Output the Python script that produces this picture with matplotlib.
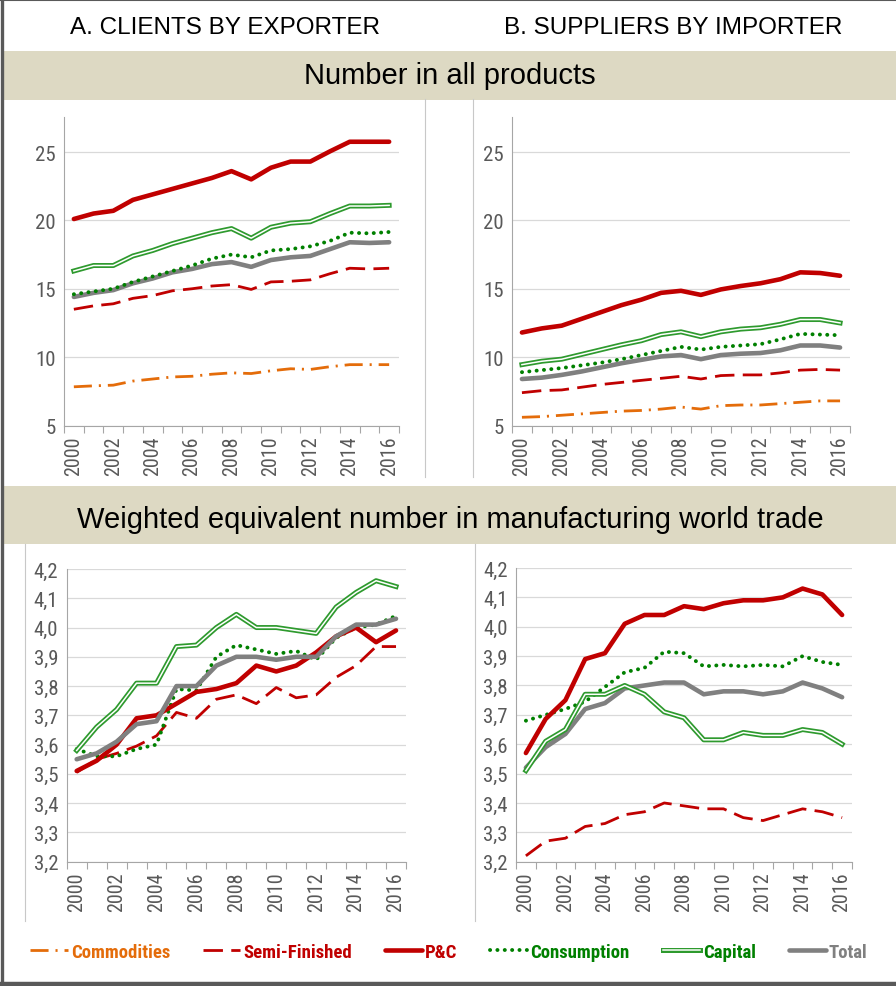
import matplotlib
matplotlib.use("Agg")
import matplotlib.pyplot as plt
import matplotlib.patheffects as pe
from matplotlib import font_manager
from matplotlib.patches import Rectangle
from matplotlib.lines import Line2D
from matplotlib.ticker import FuncFormatter, FixedLocator

# ---- data ----
years = list(range(2000, 2017))
series = ["Commodities", "Semi-Finished", "P&C", "Consumption", "Capital", "Total"]

# A. clients by exporter, number in all products
a_num_commod = [7.83, 7.9, 7.95, 8.25, 8.4, 8.55, 8.6, 8.75, 8.85, 8.8, 9.0, 9.15, 9.1, 9.3, 9.45, 9.45, 9.45]
a_num_semi = [13.5, 13.75, 13.9, 14.3, 14.5, 14.85, 15.0, 15.2, 15.3, 14.95, 15.5, 15.55, 15.65, 16.1, 16.5, 16.45, 16.5]
a_num_pc = [20.1, 20.5, 20.7, 21.5, 21.9, 22.3, 22.7, 23.1, 23.6, 23.0, 23.85, 24.3, 24.3, 25.05, 25.75, 25.75, 25.75]
a_num_cons = [14.6, 14.8, 15.0, 15.5, 15.9, 16.3, 16.7, 17.2, 17.5, 17.3, 17.8, 17.9, 18.1, 18.5, 19.1, 19.05, 19.15]
a_num_cap = [16.3, 16.7, 16.7, 17.4, 17.8, 18.3, 18.7, 19.1, 19.4, 18.7, 19.5, 19.8, 19.9, 20.5, 21.05, 21.05, 21.1]
a_num_total = [14.4, 14.7, 14.9, 15.4, 15.75, 16.2, 16.45, 16.8, 16.95, 16.6, 17.1, 17.3, 17.4, 17.9, 18.4, 18.35, 18.4]

# B. suppliers by importer, number in all products
b_num_commod = [5.6, 5.65, 5.75, 5.85, 5.95, 6.05, 6.1, 6.2, 6.35, 6.2, 6.45, 6.5, 6.5, 6.6, 6.7, 6.8, 6.8]
b_num_semi = [7.4, 7.55, 7.6, 7.8, 8.0, 8.15, 8.3, 8.45, 8.6, 8.4, 8.65, 8.7, 8.7, 8.85, 9.05, 9.1, 9.05]
b_num_pc = [11.8, 12.1, 12.3, 12.8, 13.3, 13.8, 14.2, 14.7, 14.85, 14.55, 14.95, 15.2, 15.4, 15.7, 16.2, 16.15, 15.95]
b_num_cons = [8.9, 9.05, 9.2, 9.4, 9.6, 9.85, 10.15, 10.45, 10.75, 10.55, 10.75, 10.85, 10.95, 11.3, 11.7, 11.65, 11.6]
b_num_cap = [9.45, 9.7, 9.85, 10.2, 10.55, 10.9, 11.2, 11.65, 11.85, 11.5, 11.85, 12.05, 12.15, 12.4, 12.75, 12.75, 12.5]
b_num_total = [8.4, 8.5, 8.7, 8.95, 9.25, 9.55, 9.8, 10.05, 10.15, 9.85, 10.15, 10.25, 10.3, 10.5, 10.85, 10.85, 10.7]

# A. weighted equivalent number in manufacturing world trade
a_w_semi = [3.505, 3.55, 3.57, 3.595, 3.63, 3.71, 3.69, 3.755, 3.77, 3.74, 3.795, 3.76, 3.77, 3.83, 3.87, 3.935, 3.935]
a_w_pc = [3.51, 3.545, 3.60, 3.69, 3.70, 3.74, 3.78, 3.79, 3.81, 3.87, 3.85, 3.87, 3.915, 3.97, 4.00, 3.95, 3.99]
a_w_cons = [3.585, 3.56, 3.56, 3.585, 3.60, 3.79, 3.785, 3.90, 3.94, 3.925, 3.91, 3.92, 3.89, 3.965, 4.00, 4.01, 4.04]
a_w_cap = [3.58, 3.66, 3.72, 3.81, 3.81, 3.935, 3.94, 4.00, 4.045, 4.0, 4.0, 3.99, 3.98, 4.07, 4.12, 4.16, 4.14]
a_w_total = [3.55, 3.57, 3.61, 3.67, 3.68, 3.80, 3.80, 3.87, 3.90, 3.90, 3.89, 3.90, 3.90, 3.97, 4.01, 4.01, 4.03]

# B. weighted equivalent number in manufacturing world trade
b_w_semi = [3.22, 3.27, 3.28, 3.32, 3.33, 3.36, 3.37, 3.40, 3.39, 3.38, 3.38, 3.35, 3.34, 3.36, 3.38, 3.37, 3.35]
b_w_pc = [3.57, 3.686, 3.75, 3.89, 3.91, 4.01, 4.04, 4.04, 4.07, 4.06, 4.08, 4.09, 4.09, 4.10, 4.13, 4.11, 4.04]
b_w_cons = [3.68, 3.70, 3.72, 3.745, 3.795, 3.845, 3.86, 3.915, 3.91, 3.865, 3.87, 3.865, 3.87, 3.865, 3.90, 3.88, 3.87]
b_w_cap = [3.51, 3.61, 3.65, 3.77, 3.77, 3.80, 3.77, 3.71, 3.69, 3.615, 3.615, 3.64, 3.63, 3.63, 3.65, 3.64, 3.60]
b_w_total = [3.52, 3.59, 3.635, 3.72, 3.74, 3.79, 3.80, 3.81, 3.81, 3.77, 3.78, 3.78, 3.77, 3.78, 3.81, 3.79, 3.76]

# ---- styles ----
ORANGE = "#E46C0A"
RED = "#C00000"
GREEN = "#008000"
CAP_GREEN = "#2E9A2E"
GREY = "#808080"
TXT = "#595959"
W, H = 896, 987

plt.rcParams["lines.scale_dashes"] = False
# pick a narrow face if one is installed, else plain Liberation Sans
names = sorted({f.name for f in font_manager.fontManager.ttflist})
prefs = ["Liberation Sans Narrow", "Arial Narrow", "Roboto Condensed", "Open Sans Condensed",
         "Noto Sans Condensed", "Noto Sans SemiCondensed", "Open Sans SemiCondensed"]
others = [n for n in names if "Narrow" in n or "Condensed" in n]
NARROW = next((p for p in prefs if p in names), others[0] if others else "Liberation Sans")
plt.rcParams["font.family"] = [NARROW, "DejaVu Sans"]

styles = {
    "Commodities": dict(color=ORANGE, lw=2.0, dashes=(13, 5, 1.5, 5)),
    "Semi-Finished": dict(color=RED, lw=2.0, dashes=(14, 6)),
    "P&C": dict(color=RED, lw=3.3, solid_capstyle="round"),
    "Consumption": dict(color=GREEN, lw=2.8, dashes=(0.1, 5.2), dash_capstyle="round"),
    "Capital": dict(color="white", lw=1.1,
                    path_effects=[pe.Stroke(linewidth=3.6, foreground=CAP_GREEN), pe.Normal()]),
    "Total": dict(color=GREY, lw=3.3, solid_capstyle="round"),
}


def px(x, y):
    return x / W, 1 - y / H


fig = plt.figure(figsize=(W / 100, H / 100), dpi=100)

# outer frame
fig.add_artist(Line2D([1.5 / W, 1.5 / W], [0, 1], color="#595959", lw=2.4))
fig.add_artist(Line2D([0, 1], [1 - 0.8 / H, 1 - 0.8 / H], color="#595959", lw=1.5))
fig.add_artist(Line2D([0, 1], [2.2 / H, 2.2 / H], color="#595959", lw=3.2))

# header bands
for y0, y1 in [(52, 101), (487, 545)]:
    fig.add_artist(Rectangle(px(3, y1), (W - 3) / W, (y1 - y0) / H,
                             facecolor="#DDD9C3", edgecolor="none"))

# thin box borders
for x, y0, y1 in [(425, 100, 478), (473, 100, 478), (25, 545, 922), (475, 545, 922)]:
    fig.add_artist(Line2D([x / W, x / W], [1 - y0 / H, 1 - y1 / H], color="#C8C8C8", lw=0.8))

fig.text(*px(225, 28), "A. CLIENTS BY EXPORTER", ha="center", va="center",
         fontsize=17.5, family="Liberation Sans", color="black")
fig.text(*px(673, 28), "B. SUPPLIERS BY IMPORTER", ha="center", va="center",
         fontsize=17.5, family="Liberation Sans", color="black")
fig.text(*px(450, 76), "Number in all products", ha="center", va="center",
         fontsize=21, family="Liberation Sans", color="black")
fig.text(*px(450, 520), "Weighted equivalent number in manufacturing world trade",
         ha="center", va="center", fontsize=21, family="Liberation Sans", color="black")


def panel(rect, data, ylim, yticks, comma=False):
    x0, y0 = px(rect[0], rect[3])
    ax = fig.add_axes([x0, y0, (rect[2] - rect[0]) / W, (rect[3] - rect[1]) / H])
    xs = list(range(len(years)))
    for name, vals in data:
        ax.plot(xs, vals, label=name, **styles[name])
    ax.set_xlim(-0.5, len(years) - 0.5)
    ax.set_ylim(*ylim)
    ax.yaxis.set_major_locator(FixedLocator(yticks))
    if comma:
        ax.yaxis.set_major_formatter(FuncFormatter(lambda v, p: f"{v:.1f}".replace(".", ",")))
    ax.set_xticks(xs[::2])
    ax.set_xticklabels([str(y) for y in years[::2]], rotation=90)
    ax.set_xticks([i - 0.5 for i in range(len(years) + 1)], minor=True)
    ax.tick_params(axis="x", which="major", length=0, pad=7, labelsize=14.5, labelcolor=TXT)
    ax.tick_params(axis="x", which="minor", length=5, width=0.8, color="#A6A6A6", direction="out")
    ax.tick_params(axis="y", length=0, pad=6, labelsize=15, labelcolor=TXT)
    ax.grid(axis="y", color="#D9D9D9", lw=0.9)
    ax.set_axisbelow(True)
    for s in ["top", "right"]:
        ax.spines[s].set_visible(False)
    for s in ["left", "bottom"]:
        ax.spines[s].set_color("#A6A6A6")
        ax.spines[s].set_linewidth(0.8)
    return ax


ax1 = panel((64, 118, 399, 426.5),
            [("Commodities", a_num_commod), ("Semi-Finished", a_num_semi), ("Total", a_num_total),
             ("Consumption", a_num_cons), ("Capital", a_num_cap), ("P&C", a_num_pc)],
            (5, 27.56), [5, 10, 15, 20, 25])
panel((512, 118, 850, 426.5),
      [("Commodities", b_num_commod), ("Semi-Finished", b_num_semi), ("Total", b_num_total),
       ("Consumption", b_num_cons), ("Capital", b_num_cap), ("P&C", b_num_pc)],
      (5, 27.56), [5, 10, 15, 20, 25])
panel((66.7, 570, 406, 862.7),
      [("Semi-Finished", a_w_semi), ("Consumption", a_w_cons), ("P&C", a_w_pc),
       ("Total", a_w_total), ("Capital", a_w_cap)],
      (3.2, 4.2), [3.2 + 0.1 * i for i in range(11)], comma=True)
panel((516, 569, 852, 862.7),
      [("Semi-Finished", b_w_semi), ("Consumption", b_w_cons), ("Total", b_w_total),
       ("Capital", b_w_cap), ("P&C", b_w_pc)],
      (3.2, 4.2), [3.2 + 0.1 * i for i in range(11)], comma=True)

# legend
hmap = {h.get_label(): h for h in ax1.get_lines()}
handles = [hmap[s] for s in series]
leg = fig.legend(handles, series, loc="center", bbox_to_anchor=px(449, 953), ncol=6,
                 frameon=False, handlelength=2.0, handletextpad=0.15, columnspacing=1.75,
                 prop=dict(family=[NARROW, "DejaVu Sans"], weight="bold", size=13.5))
for t, c in zip(leg.get_texts(), [ORANGE, RED, RED, GREEN, GREEN, GREY]):
    t.set_color(c)

fig.savefig("out.png", dpi=100)
